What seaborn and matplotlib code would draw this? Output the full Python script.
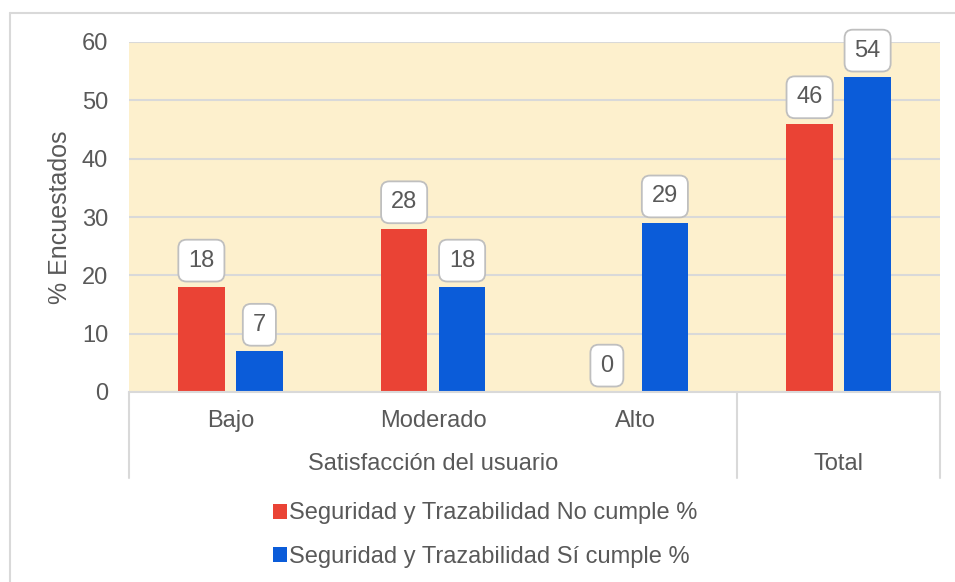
import matplotlib
matplotlib.use("Agg")
import matplotlib.pyplot as plt
import matplotlib.transforms as mtransforms
import pandas as pd
import seaborn as sns

# chart values
categories = ["Bajo", "Moderado", "Alto", "Total"]
groups = ["Satisfacción del usuario", "Total"]
series_names = ["Seguridad y Trazabilidad No cumple %",
                "Seguridad y Trazabilidad Sí cumple %"]
no_cumple = [18, 28, 0, 46]
si_cumple = [7, 18, 29, 54]
y_ticks = [0, 10, 20, 30, 40, 50, 60]

RED = "#EA4335"
BLUE = "#0B5CD9"
TEXT = "#595959"
GRID = "#D9D9D9"
FS = 17

df = pd.DataFrame({
    "cat": categories * 2,
    "serie": [series_names[0]] * 4 + [series_names[1]] * 4,
    "valor": no_cumple + si_cumple,
})

sns.set_style("white")
plt.rcParams["font.family"] = ["Liberation Sans", "DejaVu Sans"]

fig = plt.figure(figsize=(9.55, 5.82), dpi=100)
W, H = 955, 582
ax = fig.add_axes([129 / W, (H - 392) / H, (940 - 129) / W, 350 / H])

sns.barplot(data=df, x="cat", y="valor", hue="serie", order=categories,
            hue_order=series_names, palette=[RED, BLUE], width=0.572,
            gap=0.2, saturation=1, linewidth=0, ax=ax, legend=True)

ax.set_facecolor("#FDF0CD")
ax.set_ylim(0, 60)
ax.set_yticks(y_ticks)
ax.set_yticklabels([str(t) for t in y_ticks], fontsize=FS, color=TEXT)
ax.tick_params(axis="y", length=0, pad=15)
ax.tick_params(axis="x", length=0)
ax.set_xticklabels([])
ax.set_xlabel("")
ax.set_ylabel("% Encuestados", fontsize=FS + 1, color=TEXT, labelpad=7)
ax.yaxis.grid(True, color=GRID, linewidth=1.5)
ax.set_axisbelow(True)
for side in ["left", "right", "top"]:
    ax.spines[side].set_visible(False)
ax.spines["bottom"].set_color(GRID)
ax.spines["bottom"].set_linewidth(1.5)

# data labels in rounded boxes
for cont in ax.containers:
    for bar in cont:
        h = bar.get_height()
        ax.annotate(f"{h:.0f}", (bar.get_x() + bar.get_width() / 2, h),
                    xytext=(0, 19), textcoords="offset points",
                    ha="center", va="center", fontsize=FS, color=TEXT,
                    bbox=dict(boxstyle="round,pad=0.42,rounding_size=0.35",
                              fc="white", ec="#BFBFBF", lw=1.3))

# multi-level category axis
trans = mtransforms.blended_transform_factory(ax.transData, ax.transAxes)
for i, c in enumerate(categories[:3]):
    ax.text(i, -0.083, c, transform=trans, ha="center", va="center",
            fontsize=FS, color=TEXT)
ax.text(1, -0.206, groups[0], transform=trans, ha="center", va="center",
        fontsize=FS, color=TEXT)
ax.text(3, -0.206, groups[1], transform=trans, ha="center", va="center",
        fontsize=FS, color=TEXT)
for xb in [-0.5, 2.5, 3.5]:
    ax.plot([xb, xb], [0, -0.246], transform=trans, color=GRID,
            lw=1.5, clip_on=False)
ax.set_xlim(-0.5, 3.5)

# legend below
handles, labels = ax.get_legend_handles_labels()
ax.get_legend().remove()
fig.legend(handles, labels, loc="center", bbox_to_anchor=(485 / W, 1 - 535 / H),
           frameon=False, fontsize=FS, labelcolor=TEXT, handlelength=0.6,
           handleheight=0.6, handletextpad=0.1, labelspacing=0.9)

# outer chart border
fig.add_artist(plt.Line2D([10 / W, 10 / W], [0, 1 - 13 / H],
                          transform=fig.transFigure, color=GRID, lw=1.5))
fig.add_artist(plt.Line2D([10 / W, 1], [1 - 13 / H, 1 - 13 / H],
                          transform=fig.transFigure, color=GRID, lw=1.5))

fig.savefig("out.png", dpi=100, facecolor="white")
